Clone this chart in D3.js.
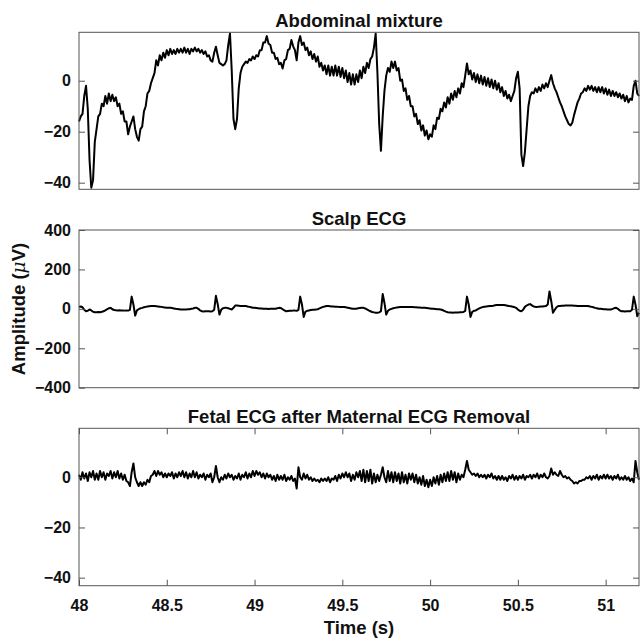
<!DOCTYPE html>
<html>
<head>
<meta charset="utf-8">
<script src="https://cdn.jsdelivr.net/npm/d3@7"></script>
<style>
  body { margin: 0; background: #fff; }
  svg { display: block; font-family: "Liberation Sans", Arial, sans-serif; }
</style>
</head>
<body>
<div class="chart"></div>
<script>
// sampling grid of the three traces (s)
const t0 = 48;
const dt = 0.01;

// abdominal mixture, one row = 0.1 s
const abdominal = [
  -16, -14, -13, -6, -2, -11, -31, -42, -39, -24,
  -19, -14, -13, -9, -10, -6, -9, -5, -8, -5.5,
  -8, -6.5, -10, -9, -13, -12, -16, -16, -21, -18,
  -16, -14, -19, -22, -23.5, -19, -18, -12, -10, -5,
  -4, -1, 1, 3, 8, 6, 10, 8, 11, 9,
  12, 10, 12.5, 10.5, 12, 10.5, 12.5, 11, 12.5, 11,
  13, 11, 12.5, 10.5, 12.5, 11.5, 13, 11.5, 12.5, 11,
  12, 10.5, 11.5, 9.5, 10, 8, 7.5, 11, 13.3, 10,
  7, 6.5, 6, 6.5, 8, 14, 18.5, 4, -15, -19,
  -15, -3, 3, 5.5, 6.5, 7.5, 7, 8.5, 8, 9.5,
  8.5, 10, 9.5, 12, 12, 15, 15, 17.5, 14.5, 14,
  11, 11, 8.5, 9, 6.5, 7, 4.8, 8, 8.5, 12,
  12.5, 16, 13.5, 12, 8, 15, 17.5, 14, 15, 12,
  13, 10, 11.5, 8.5, 10.5, 7.5, 9.5, 5.5, 7, 4,
  6, 2.5, 6, 2, 5.5, 2, 6, 2, 5.5, 1.5,
  5, 1, 4, -0.5, 3, -1.5, 2.5, -1.5, 2.5, -0.5,
  4, 1, 5.5, 3, 7, 5, 8.5, 9.5, 13, 18.5,
  3, -17, -27.5, -14, -4, 2, 5, 3.5, 7.5, 5,
  7.5, 4, 5, 0, 0.5, -4, -3, -7.5, -6, -10,
  -10, -14, -13, -17, -15.5, -19.5, -17.5, -21.5, -19.5, -23,
  -21, -22, -17.5, -19, -14.5, -15, -11, -12, -8.5, -10.5,
  -6.5, -9, -5, -7.5, -4, -6.5, -3, -5, -1, -2.5,
  2, 6.8, 2.5, 4, 0.5, 3, -0.5, 2.5, -1, 2,
  -1.5, 1.5, -2, 1, -2.5, 0.5, -3, 0, -3.5, -1,
  -4.5, -2.5, -6, -4, -7, -5.5, -8, -6, -4, 1,
  3.5, -3, -29, -33.5, -28, -19, -10, -6, -4.5, -5,
  -3, -4.5, -2.5, -4, -1.5, -3, -1, -2.5, 0, 2.2,
  -1, -3, -4.5, -6.5, -8.5, -10, -12, -14, -15.5, -17,
  -17.5, -16.5, -13.5, -11, -8.5, -7, -5, -4.5, -3, -4,
  -2, -3.5, -2, -4, -2.5, -4.5, -2.5, -4.5, -2.5, -5,
  -3, -5.5, -3.5, -6, -4, -6, -4.5, -6.5, -5, -7,
  -5.5, -8, -6, -8.5, -7, -7.5, -2, 0, -5, -6
];

// scalp ECG (µV)
const scalp = [
  10, 12, 8, -5, -12, -10, -3, -8, -15, -17,
  -17, -16, -17, -15, -12, -8, -2, 3, 5, -2,
  -6, -7, -8, -7, -8, -8, -9, -8, -9, -5,
  62, 22, -34, -8, -2, 3, 5, 8, 10, 12,
  13, 14, 14, 14, 13, 12, 11, 10, 8, 7,
  6, 5, 5, 4, 2, 0, -1, -2, -3, -3,
  -3, -3, -2, -2, 0, 2, 5, 5, 0, -8,
  -12, -13, -12, -12, -12, -13, -12, -5, 66, 25,
  -29, -5, 3, 5, 5, 3, 0, -3, 5, 17,
  17, 16, 15, 15, 14, 14, 12, 10, 8, 6,
  5, 4, 3, 2, 2, 1, 0, 0, -1, 0,
  0, 0, 1, 3, 5, 4, -2, -8, -12, -11,
  -10, -10, -9, -9, -10, -5, 62, 22, -41, -14,
  -10, -8, -6, -5, -4, -3, -2, 2, 6, 10,
  12, 14, 14, 13, 12, 12, 11, 11, 10, 10,
  10, 9, 8, 6, 4, 2, 0, 0, 1, 3,
  4, 5, 5, 2, -3, -8, -12, -16, -18, -20,
  -20, -18, -12, 75, 30, -29, -10, -3, 0, 3,
  5, 7, 8, 9, 10, 10, 10, 10, 10, 9,
  9, 8, 8, 7, 7, 6, 6, 5, 4, 3,
  2, 1, 0, -1, -2, -2, -3, -6, -10, -14,
  -17, -18, -19, -20, -19, -18, -18, -17, -17, -16,
  -10, 62, 22, -41, -15, -10, -8, -3, 2, 6,
  9, 11, 12, 13, 14, 15, 16, 18, 19, 20,
  20, 20, 19, 18, 16, 14, 13, 11, 9, 5,
  -3, -10, -12, -5, 10, 17, 22, 24, 18, 12,
  10, 10, 11, 12, 12, 13, 14, 22, 88, 40,
  -20, -5, 8, 14, 15, 16, 16, 17, 17, 17,
  17, 17, 16, 16, 15, 15, 14, 14, 14, 14,
  14, 12, 10, 8, 5, 3, 1, 0, -1, -2,
  -2, -3, -3, -3, 0, 4, 5, 0, -8, -12,
  -12, -13, -12, -12, -12, -5, 62, 22, -37, -20
];

// fetal ECG after maternal ECG removal
const fetal = [
  1, -1, 2, -0.5, 1.5, -1.5, 2, 0, 2.5, -1,
  1.5, -1, 2.5, 0, 2, -1, 1.5, 0.5, 2.5, -0.5,
  2, 0, 2.5, -0.5, 1.5, -1, 1, -1.5, -2, -3.5,
  2, 5.5, 0, -2, -3.5, -2, -3.5, -2, -3, -1,
  -2, 0.5, 1, 2.5, 0.5, 2.5, 1, 2, 0, 1.5,
  0, 1.5, 0.5, 2, -0.5, 1.5, 0, 2, 0.5, 2.5,
  0, 2, -0.5, 1.5, 0, 2.5, 0, 2, -0.5, 1,
  0, 1.5, -1, 1, 0, 1.5, -2, 0, 4.5, 0,
  -2, 0, -1, 1, -0.5, 1.5, 0, 1, -1, 0.5,
  -0.5, 1.5, -1, 1, 0, 2, -0.5, 1.5, 0, 2.5,
  0.5, 2.5, 1, 2, 0, 1.5, -0.5, 1.5, 0, 1,
  -1, 0.5, -1.5, 1, -1, 0.5, -1, 1, -1.5, 0,
  -1, 0.5, -1.5, -0.5, -4.5, 4, 0, -1, 1.5, -0.5,
  1, -1, 0, -1.5, -0.5, -1.5, -1, -2, -0.5, -1.5,
  -0.5, -1.5, 0, -2, -0.5, -1, 0.5, -1.5, 1, -0.5,
  1.5, 0, 2, 0, 1.5, -1.5, 1, -1, 2, 0,
  2.5, -1.5, 3, -2, 2.5, -1.5, 3, -2.5, 1.5, -2,
  1, -1.5, 1, 4, 0, -2, 2.5, -1.5, 2, -2,
  2, -1.5, 1.5, -2.5, 2, -2, 1, -2.5, 1.5, -1,
  1.5, -2, 1, -2.5, 0, -3, 0.5, -3.5, -1, -4,
  -1, -3.5, 0, -2.5, 0.5, -3, 1, -2, 1.5, -1.5,
  2, -1.5, 2.5, -1, 2, -2, 1.5, -1, 1, 0,
  3, 6.5, 3, 2, 1, 1.5, 0.5, 1.5, 0, 1,
  0, 1, -0.5, 1, 0, 1.5, -0.5, 0.5, -1, 0.5,
  -1, 0.5, -1, 0, -1.5, 0.5, -0.5, 1, -1, 0.5,
  -1, 0.5, -0.5, 1, -1, 0.5, 0, 1, -0.5, 1,
  0, 1.5, -0.5, 1, 0, 1.5, 0, -0.5, 0.5, 3.5,
  1, 2, 1, 0.5, 2.5, 1, 0, 0.5, -0.5, 0,
  -1, -1.5, -2.5, -2, -2.5, -1.5, -1.5, -1, -1, 0,
  -0.5, 0.5, -1, 0.5, -0.5, 1, -1, 0.5, -0.5, 1,
  -0.5, 1, -0.5, 0.5, -1, 0.5, -0.5, 1, -1, 0,
  -1, 0.5, -1, 0, -1.5, -0.5, -2, 6.5, 2, -1
];

const titles = ["Abdominal mixture", "Scalp ECG", "Fetal ECG after Maternal ECG Removal"];
const yTicks = [[-40, -20, 0], [-400, -200, 0, 200, 400], [-40, -20, 0]];
const yDomains = [[-42.6, 19], [-400, 400], [-43.2, 19.5]];
const xTicks = [48, 48.5, 49, 49.5, 50, 50.5, 51];
const xDomain = [48, 51.19];

const W = 641, H = 638;
const left = 79, right = 639;
const panels = [
  { top: 32.3, bottom: 189.3, data: abdominal },
  { top: 230, bottom: 387.7, data: scalp },
  { top: 428.3, bottom: 585.7, data: fetal }
];

var svg = d3.select(".chart").append("svg")
  .attr("width", W).attr("height", H);
svg.append("rect").attr("width", W).attr("height", H).attr("fill", "#fff");

const x = d3.scaleLinear().domain(xDomain).range([left, right]);

panels.forEach((p, k) => {
  const y = d3.scaleLinear().domain(yDomains[k]).range([p.bottom, p.top]);
  const g = svg.append("g");

  // trace
  const line = d3.line()
    .x((d, i) => x(t0 + i * dt))
    .y((d) => y(d));
  g.append("path")
    .datum(p.data)
    .attr("d", line)
    .attr("fill", "none")
    .attr("stroke", "#000")
    .attr("stroke-width", 2)
    .attr("stroke-linejoin", "round");

  // y axis left with labels, right without
  const yl = g.append("g").attr("transform", `translate(${left},0)`)
    .call(d3.axisLeft(y).tickValues(yTicks[k]).tickSize(-6).tickPadding(8));
  const yr = g.append("g").attr("transform", `translate(${right},0)`)
    .call(d3.axisRight(y).tickValues(yTicks[k]).tickSize(-6).tickFormat(""));

  var axes = [yl, yr];
  if (k == 2) {
    const xb = g.append("g").attr("transform", `translate(0,${p.bottom})`)
      .call(d3.axisBottom(x).tickValues(xTicks).tickSize(-6).tickPadding(14)
        .tickFormat(d3.format("")));
    const xt = g.append("g").attr("transform", `translate(0,${p.top})`)
      .call(d3.axisTop(x).tickValues(xTicks).tickSize(-6).tickFormat(""));
    axes.push(xb, xt);
  }
  axes.forEach((a) => {
    a.select(".domain").remove();
    a.selectAll("line").attr("stroke", "#555");
    a.selectAll("text")
      .attr("fill", "#111")
      .attr("font-size", 16)
      .attr("font-weight", "bold")
      .attr("font-family", "Liberation Sans, Arial, sans-serif");
  });

  // box
  g.append("rect")
    .attr("x", left).attr("y", p.top)
    .attr("width", right - left).attr("height", p.bottom - p.top)
    .attr("fill", "none").attr("stroke", "#555").attr("stroke-width", 1);

  // title
  g.append("text")
    .attr("x", (left + right) / 2)
    .attr("y", p.top - 5)
    .attr("text-anchor", "middle")
    .attr("font-size", 18.5)
    .attr("font-weight", "bold")
    .attr("fill", "#111")
    .text(titles[k]);
});

// axis labels
svg.append("text")
  .attr("x", (left + right) / 2)
  .attr("y", 634)
  .attr("text-anchor", "middle")
  .attr("font-size", 18.5)
  .attr("font-weight", "bold")
  .attr("fill", "#111")
  .text("Time (s)");

var ylab = svg.append("text")
  .attr("transform", "translate(25,309) rotate(-90)")
  .attr("text-anchor", "middle")
  .attr("font-size", 18.5)
  .attr("font-weight", "bold")
  .attr("fill", "#111");
ylab.append("tspan").text("Amplitude (");
ylab.append("tspan").attr("font-style", "italic").attr("font-weight", "normal")
  .attr("font-family", "DejaVu Serif, serif").text("\u03bc");
ylab.append("tspan").text("V)");
</script>
</body>
</html>
